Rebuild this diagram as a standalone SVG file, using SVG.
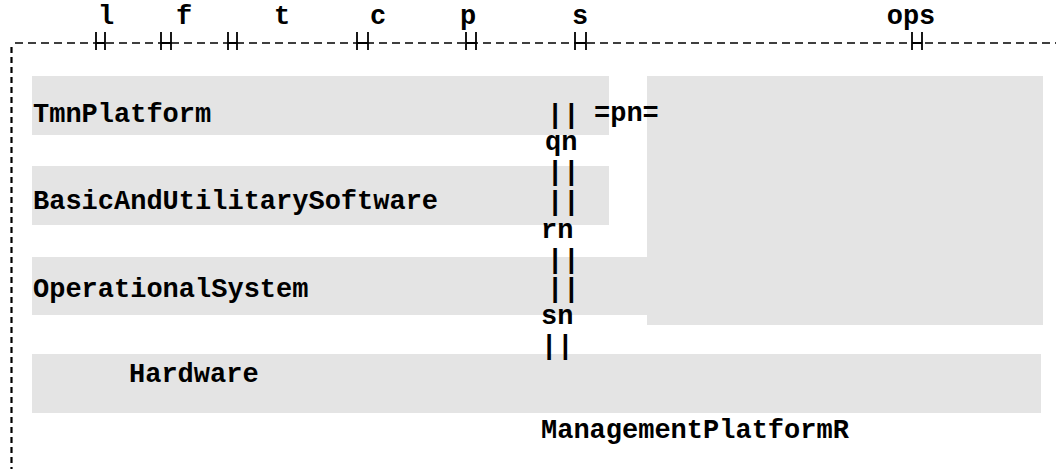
<svg xmlns="http://www.w3.org/2000/svg" width="1056" height="469" viewBox="0 0 1056 469">
<style>
  text { font-family: "Liberation Mono", "DejaVu Sans Mono", monospace; font-weight: bold; font-size: 27px; fill: #000; }
  .box { fill: #e4e4e4; stroke: none; }
  .hdash { stroke: #000; stroke-width: 1.6; stroke-dasharray: 8 5; fill: none; }
  .vdash { stroke: #000; stroke-width: 2.2; stroke-dasharray: 6 4; fill: none; }
  .tick { stroke: #000; stroke-width: 1.8; }
  .mid { text-anchor: middle; }
</style>
<rect width="1056" height="469" fill="#fff"/>
<g id="frame">
  <line class="hdash" x1="15" y1="43" x2="1056" y2="43"/>
  <line class="vdash" x1="11.5" y1="47" x2="11.5" y2="469"/>
</g>
<g id="axis-labels">
  <text class="mid" x="106" y="24">l</text>
  <text class="mid" x="184" y="24">f</text>
  <text class="mid" x="282" y="24">t</text>
  <text class="mid" x="378" y="24">c</text>
  <text class="mid" x="468" y="24">p</text>
  <text class="mid" x="580" y="24">s</text>
  <text class="mid" x="911" y="24">ops</text>
</g>
<g id="ticks">
  <path class="tick" d="M96 32V50M105 32V50M96 43H105 M161 32V50M171 32V50M161 43H171 M228 32V50M237 32V50M228 43H237 M357 32V50M368 32V50M357 43H368 M466 32V50M476 32V50M466 43H476 M575 32V50M586 32V50M575 43H586 M912 32V50M922 32V50M912 43H922"/>
</g>
<g id="node-ManagementPlatformR">
  <rect class="box" x="647" y="76" width="396" height="249"/>
  <text x="541" y="438">ManagementPlatformR</text>
</g>
<g id="node-TmnPlatform">
  <rect class="box" x="32" y="76" width="577" height="59"/>
  <text x="33" y="122">TmnPlatform</text>
</g>
<g id="node-BasicAndUtilitarySoftware">
  <rect class="box" x="32" y="166" width="577" height="59"/>
  <text x="33" y="209">BasicAndUtilitarySoftware</text>
</g>
<g id="node-OperationalSystem">
  <rect class="box" x="32" y="257" width="615" height="58"/>
  <text x="33" y="297">OperationalSystem</text>
</g>
<g id="node-Hardware">
  <rect class="box" x="32" y="354" width="1009" height="59"/>
  <text x="129" y="382">Hardware</text>
</g>
<g id="connectors">
  <text x="547" y="123">||</text>
  <text x="594" y="121">=pn=</text>
  <text x="545" y="150">qn</text>
  <text x="547" y="180">||</text>
  <text x="547" y="210">||</text>
  <text x="541" y="238">rn</text>
  <text x="547" y="268">||</text>
  <text x="547" y="297">||</text>
  <text x="541" y="324">sn</text>
  <text x="541" y="354">||</text>
</g>
</svg>
